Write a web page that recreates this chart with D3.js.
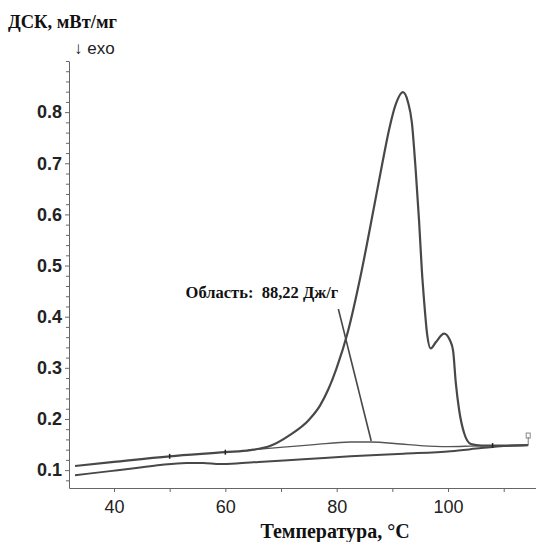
<!DOCTYPE html>
<html>
<head>
<meta charset="utf-8">
<script src="https://cdn.jsdelivr.net/npm/d3@7/dist/d3.min.js"></script>
<style>
  html, body { margin: 0; padding: 0; background: #fff; }
  svg { display: block; }
</style>
</head>
<body>
<svg id="chart" width="536" height="542"></svg>
<script>
// ---- data ----
const yTicks = [0.1, 0.2, 0.3, 0.4, 0.5, 0.6, 0.7, 0.8];
const xTicks = [40, 60, 80, 100];
const xMinorTicks = [50, 70, 90, 110];

// DSC curve of the sample
const topT = [33, 40, 50, 60, 64.5, 68, 71.5, 75, 77, 78.5, 80, 82, 84.3, 86.8, 88.2, 89.5, 90.6, 91.9, 92.8, 93.5, 94.2, 94.8, 95.3, 95.7, 96.2, 96.9, 97.8, 99.3, 100.3, 100.9, 101.4, 102, 102.9, 104.1, 106, 110, 114.4];
const topV = [0.108, 0.116, 0.127, 0.135, 0.139, 0.147, 0.168, 0.198, 0.226, 0.258, 0.30, 0.37, 0.48, 0.62, 0.70, 0.77, 0.815, 0.839, 0.82, 0.78, 0.685, 0.587, 0.49, 0.431, 0.37, 0.338, 0.35, 0.367, 0.355, 0.334, 0.27, 0.217, 0.172, 0.151, 0.148, 0.148, 0.149];

// integration baseline
const baseT = [64, 70.4, 76, 82.5, 86.1, 91.5, 95, 100, 104, 107];
const baseV = [0.139, 0.145, 0.150, 0.155, 0.155, 0.151, 0.148, 0.146, 0.147, 0.148];

// second (lower) curve
const lowT = [33, 39.3, 44, 48.3, 53, 56, 59, 62, 66, 74, 82.5, 92, 100.5, 106, 110, 114.4];
const lowV = [0.09, 0.098, 0.104, 0.11, 0.114, 0.114, 0.112, 0.113, 0.116, 0.121, 0.127, 0.132, 0.137, 0.143, 0.147, 0.149];

// small markers on the sample curve
const markT = [50, 60, 108];
const markV = [0.127, 0.135, 0.148];

// annotation leader line
const annT = [80.3, 86.2];
const annV = [0.415, 0.157];
const annText = "Область:  88,22 Дж/г";

// ---- layout ----
const svg = d3.select("#chart");
const x = d3.scaleLinear().domain([31.92, 115.8]).range([69, 536]);
const y = d3.scaleLinear().domain([0.065, 0.9]).range([488, 61]);
const axisColor = "#666";
const lineColor = "#484848";

// axes
const yMinor = d3.range(0.08, 0.9001, 0.02).filter(v => !yTicks.some(t => Math.abs(t - v) < 1e-6));
svg.append("g").attr("transform", "translate(69,0)")
  .call(d3.axisLeft(y).tickValues(yMinor).tickSize(3).tickFormat(""))
  .call(g => g.select(".domain").remove())
  .call(g => g.selectAll("line").attr("stroke", axisColor));

const gy = svg.append("g").attr("transform", "translate(69,0)")
  .call(d3.axisLeft(y).tickValues(yTicks).tickSize(4).tickPadding(3).tickFormat(d3.format(".1f")).tickSizeOuter(0));
gy.select(".domain").attr("stroke", axisColor);
gy.selectAll("line").attr("stroke", axisColor);
gy.selectAll("text").attr("font-family", "Liberation Sans, Arial, sans-serif")
  .attr("font-size", 18).attr("font-weight", "bold").attr("fill", "#222");

svg.append("g").attr("transform", "translate(0,488)")
  .call(d3.axisBottom(x).tickValues(xMinorTicks).tickSize(4).tickFormat(""))
  .call(g => g.select(".domain").remove())
  .call(g => g.selectAll("line").attr("stroke", axisColor));

const gx = svg.append("g").attr("transform", "translate(0,488)")
  .call(d3.axisBottom(x).tickValues(xTicks).tickSize(4).tickPadding(8).tickSizeOuter(0));
gx.select(".domain").attr("stroke", axisColor);
gx.selectAll("line").attr("stroke", axisColor);
gx.selectAll("text").attr("font-family", "Liberation Sans, Arial, sans-serif")
  .attr("font-size", 18).attr("fill", "#222");

// curves
const line = d3.line().x(d => x(d[0])).y(d => y(d[1])).curve(d3.curveMonotoneX);
const zip = (a, b) => a.map((v, i) => [v, b[i]]);

svg.append("path").datum(zip(lowT, lowV)).attr("d", line)
  .attr("fill", "none").attr("stroke", lineColor).attr("stroke-width", 2);
svg.append("path").datum(zip(baseT, baseV)).attr("d", line)
  .attr("fill", "none").attr("stroke", "#555").attr("stroke-width", 1.3);
svg.append("path").datum(zip(topT, topV)).attr("d", line)
  .attr("fill", "none").attr("stroke", lineColor).attr("stroke-width", 2.2);

// end marker
const endT = topT[topT.length - 1], endV = topV[topV.length - 1];
svg.append("line").attr("x1", x(endT)).attr("x2", x(endT))
  .attr("y1", y(endV)).attr("y2", y(endV) - 8).attr("stroke", "#777").attr("stroke-width", 1);
svg.append("rect").attr("x", x(endT) - 2).attr("y", y(endV) - 12).attr("width", 4).attr("height", 5)
  .attr("fill", "none").attr("stroke", "#888").attr("stroke-width", 1);

// small markers
svg.selectAll("line.mk").data(zip(markT, markV)).join("line").attr("class", "mk")
  .attr("x1", d => x(d[0])).attr("x2", d => x(d[0]))
  .attr("y1", d => y(d[1]) - 2.5).attr("y2", d => y(d[1]) + 2.5)
  .attr("stroke", "#222").attr("stroke-width", 1.5);

// annotation
svg.append("line")
  .attr("x1", x(annT[0])).attr("y1", y(annV[0]))
  .attr("x2", x(annT[1])).attr("y2", y(annV[1]))
  .attr("stroke", lineColor).attr("stroke-width", 1.6);
svg.append("text").attr("x", x(annT[0])).attr("y", y(annV[0]) - 11)
  .attr("text-anchor", "end")
  .attr("font-family", "Liberation Serif, Times New Roman, serif")
  .attr("font-weight", "bold").attr("font-size", 16.5).attr("fill", "#111")
  .style("white-space", "pre").text(annText);

// titles
svg.append("text").attr("x", 8).attr("y", 28)
  .attr("font-family", "Liberation Serif, Times New Roman, serif")
  .attr("font-weight", "bold").attr("font-size", 18.5).attr("fill", "#111")
  .text("ДСК, мВт/мг");
svg.append("text").attr("x", 74).attr("y", 54)
  .attr("font-family", "Liberation Sans, Arial, sans-serif")
  .attr("font-size", 17).attr("fill", "#222")
  .text("↓ exo");
svg.append("text").attr("x", 335).attr("y", 538)
  .attr("text-anchor", "middle")
  .attr("font-family", "Liberation Serif, Times New Roman, serif")
  .attr("font-weight", "bold").attr("font-size", 20).attr("fill", "#111")
  .text("Температура, °C");
</script>
</body>
</html>
